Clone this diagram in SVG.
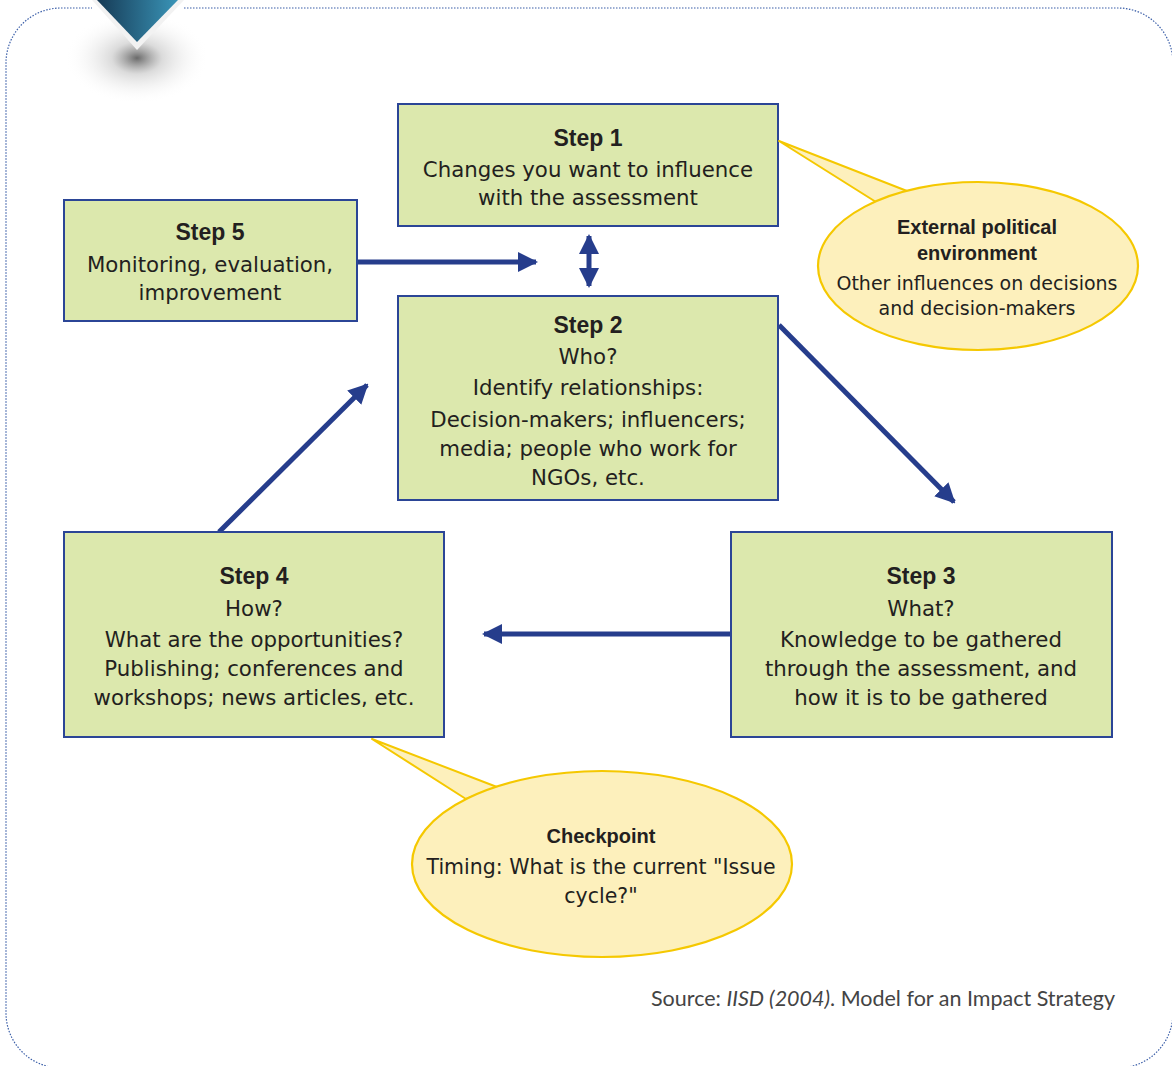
<svg xmlns="http://www.w3.org/2000/svg" width="1172" height="1066" viewBox="0 0 1172 1066">
<style>
.box{fill:#dce8ad;stroke:#2b4596;stroke-width:2}
.bub{fill:#fdf0bc;stroke:#f5c800;stroke-width:2.2}
.tail{fill:#fdf0bc;stroke:#f5c800;stroke-width:2;stroke-linejoin:round}
.t{font-family:"Liberation Sans",Arial,sans-serif;font-weight:bold;font-size:23px;fill:#231f20;text-anchor:middle}
.b{font-family:"DejaVu Sans",sans-serif;font-size:21.3px;fill:#231f20;text-anchor:middle}
.tb{font-family:"Liberation Sans",Arial,sans-serif;font-weight:bold;font-size:20px;fill:#231f20;text-anchor:middle}
.bb{font-family:"DejaVu Sans",sans-serif;font-size:19px;fill:#231f20;text-anchor:middle}
.cb{font-family:"DejaVu Sans",sans-serif;font-size:20.5px;fill:#231f20;text-anchor:middle}
.c{stroke:#263d8c;stroke-width:5;fill:none}
.src{font-family:Lato,"Liberation Sans",sans-serif;font-size:21.5px;fill:#444;text-anchor:end}
</style>
<defs>
<marker id="ah" viewBox="0 0 10 10" refX="9" refY="5" markerWidth="4" markerHeight="4" orient="auto-start-reverse" markerUnits="strokeWidth">
<path d="M0,0 L10,5 L0,10 Z" fill="#263d8c"/>
</marker>
<linearGradient id="tg" x1="0" y1="0" x2="1" y2="0">
<stop offset="0" stop-color="#163a55"/>
<stop offset="1" stop-color="#3a95b8"/>
</linearGradient>
<radialGradient id="sh" cx="0.5" cy="0.5" r="0.5">
<stop offset="0" stop-color="#444" stop-opacity="0.8"/>
<stop offset="0.35" stop-color="#888" stop-opacity="0.3"/>
<stop offset="1" stop-color="#fff" stop-opacity="0"/>
</radialGradient>
</defs>
<rect width="1172" height="1066" fill="#fff"/>
<g id="frame">
<rect x="6" y="8" width="1167" height="1060" rx="55" ry="55" fill="none" stroke="#3a5ea8" stroke-width="1.2" stroke-dasharray="1.5 1.5"/>
<rect x="92" y="0" width="92" height="12" fill="#fff"/>
<ellipse cx="137" cy="58" rx="72" ry="46" fill="url(#sh)"/>
<polygon points="92,0 184,0 137,50" fill="#f2f2f2"/>
<polygon points="97,0 178,0 137,42" fill="url(#tg)"/>
</g>
<g id="connectors">
<line class="c" x1="357" y1="262" x2="536" y2="262" marker-end="url(#ah)"/>
<line class="c" x1="589" y1="236" x2="589" y2="286" marker-start="url(#ah)" marker-end="url(#ah)"/>
<line class="c" x1="779" y1="325" x2="954" y2="502" marker-end="url(#ah)"/>
<line class="c" x1="219" y1="532" x2="367" y2="385" marker-end="url(#ah)"/>
<line class="c" x1="731" y1="634" x2="484" y2="634" marker-end="url(#ah)"/>
</g>
<g id="step1">
<rect class="box" x="398" y="104" width="380" height="122"/>
<text class="t" x="588" y="146">Step 1</text>
<text class="b" x="588" y="177">Changes you want to influence</text>
<text class="b" x="588" y="205">with the assessment</text>
</g>
<g id="step5">
<rect class="box" x="64" y="200" width="293" height="121"/>
<text class="t" x="210" y="240">Step 5</text>
<text class="b" x="210" y="272">Monitoring, evaluation,</text>
<text class="b" x="210" y="300">improvement</text>
</g>
<g id="step2">
<rect class="box" x="398" y="296" width="380" height="204"/>
<text class="t" x="588" y="333">Step 2</text>
<text class="b" x="588" y="364">Who?</text>
<text class="b" x="588" y="395">Identify relationships:</text>
<text class="b" x="588" y="427">Decision-makers; influencers;</text>
<text class="b" x="588" y="456">media; people who work for</text>
<text class="b" x="588" y="485">NGOs, etc.</text>
</g>
<g id="step4">
<rect class="box" x="64" y="532" width="380" height="205"/>
<text class="t" x="254" y="584">Step 4</text>
<text class="b" x="254" y="616">How?</text>
<text class="b" x="254" y="647">What are the opportunities?</text>
<text class="b" x="254" y="676">Publishing; conferences and</text>
<text class="b" x="254" y="705">workshops; news articles, etc.</text>
</g>
<g id="step3">
<rect class="box" x="731" y="532" width="381" height="205"/>
<text class="t" x="921" y="584">Step 3</text>
<text class="b" x="921" y="616">What?</text>
<text class="b" x="921" y="647">Knowledge to be gathered</text>
<text class="b" x="921" y="676">through the assessment, and</text>
<text class="b" x="921" y="705">how it is to be gathered</text>
</g>
<g id="external">
<polygon class="tail" points="779,141 907,191 876,202"/>
<ellipse class="bub" cx="978" cy="266" rx="160" ry="84"/>
<text class="tb" x="977" y="234">External political</text>
<text class="tb" x="977" y="260">environment</text>
<text class="bb" x="977" y="290">Other influences on decisions</text>
<text class="bb" x="977" y="315">and decision-makers</text>
</g>
<g id="checkpoint">
<polygon class="tail" points="372,739 497,787 466,799"/>
<ellipse class="bub" cx="602" cy="864" rx="190" ry="93"/>
<text class="tb" x="601" y="843">Checkpoint</text>
<text class="cb" x="601" y="874">Timing: What is the current "Issue</text>
<text class="cb" x="601" y="903">cycle?"</text>
</g>
<g id="source">
<text class="src" x="1115" y="1006">Source: <tspan font-style="italic">IISD (2004)</tspan>. Model for an Impact Strategy</text>
</g>
</svg>
